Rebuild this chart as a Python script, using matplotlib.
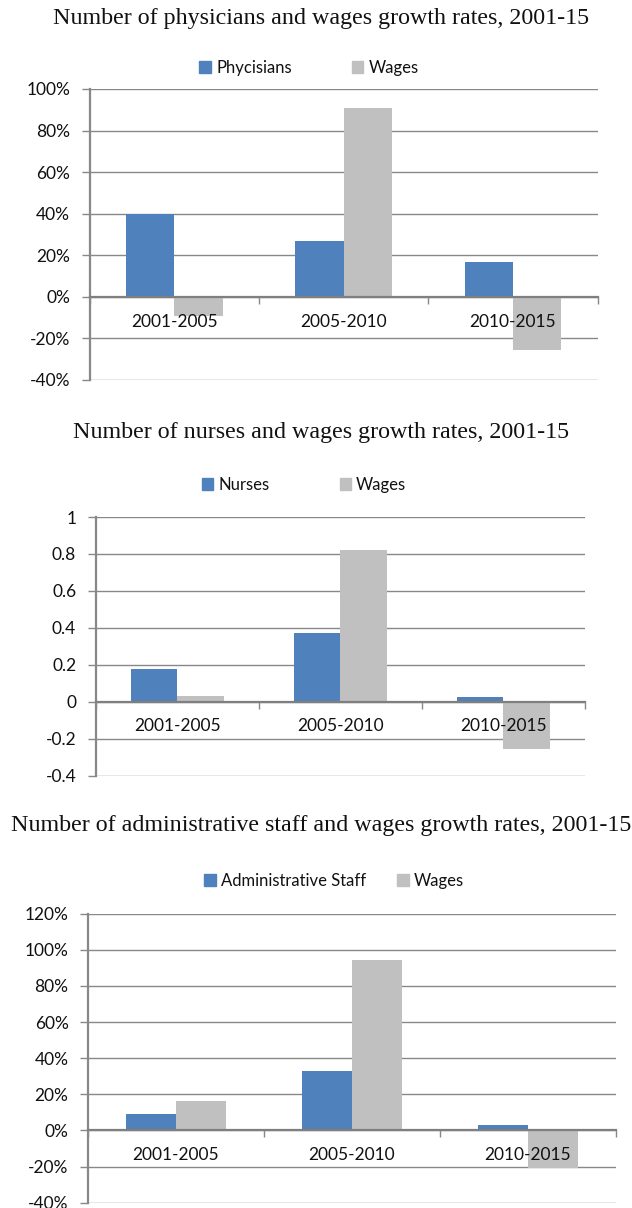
import matplotlib
matplotlib.use("Agg")
import matplotlib.pyplot as plt
from matplotlib.patches import Patch
from matplotlib.ticker import PercentFormatter, FuncFormatter, FixedLocator

plt.rcParams["axes.unicode_minus"] = False

periods = ["2001-2005", "2005-2010", "2010-2015"]

physicians = [0.40, 0.27, 0.17]
physician_wages = [-0.09, 0.91, -0.255]

nurses = [0.177, 0.372, 0.024]
nurse_wages = [0.032, 0.821, -0.254]

admin_staff = [0.09, 0.33, 0.03]
admin_wages = [0.162, 0.945, -0.21]

BLUE = "#4F81BD"
GREY = "#C0C0C0"
LINE = "#888888"
SANS = "Lato"
SERIF = "Liberation Serif"

W, H = 632, 1208
fig = plt.figure(figsize=(W / 100, H / 100), dpi=100)


def px_axes(left, top, right, bottom):
    return fig.add_axes([left / W, 1 - bottom / H, (right - left) / W, (bottom - top) / H])


def draw_panel(ax, title, title_y, legend_label, legend_y, legend_x, colspace,
               staff, wages, ylim, step, percent):
    bar_w = 1 / 3.5
    x = range(len(periods))
    ax.bar([i - bar_w / 2 for i in x], staff, width=bar_w, color=BLUE, zorder=2)
    ax.bar([i + bar_w / 2 for i in x], wages, width=bar_w, color=GREY, zorder=2)

    ax.set_xlim(-0.5, len(periods) - 0.5)
    ax.set_ylim(*ylim)
    n = int(round((ylim[1] - ylim[0]) / step))
    ax.yaxis.set_major_locator(FixedLocator([ylim[0] + k * step for k in range(n + 1)]))
    if percent:
        ax.yaxis.set_major_formatter(PercentFormatter(xmax=1, decimals=0))
    else:
        ax.yaxis.set_major_formatter(FuncFormatter(lambda v, _: f"{round(v, 2):g}"))

    ax.grid(axis="y", color=LINE, linewidth=1.0)
    ax.yaxis.set_zorder(0.5)
    ax.xaxis.set_zorder(3)

    for s in ("top", "right"):
        ax.spines[s].set_visible(False)
    ax.spines["left"].set_color(LINE)
    ax.spines["left"].set_linewidth(1.6)
    ax.spines["bottom"].set_position(("data", 0))
    ax.spines["bottom"].set_color("#7f7f7f")
    ax.spines["bottom"].set_linewidth(1.6)
    ax.spines["bottom"].set_zorder(3)

    # category boundaries as ticks, category names as minor tick labels
    ax.set_xticks([i - 0.5 for i in range(len(periods) + 1)])
    ax.set_xticklabels([])
    ax.set_xticks(list(x), minor=True)
    ax.set_xticklabels(periods, minor=True, fontsize=12.5, family=SANS, color="#111111")
    ax.tick_params(axis="x", which="major", direction="out", length=5, width=1, color=LINE)
    ax.tick_params(axis="x", which="minor", length=0, pad=12)
    ax.tick_params(axis="y", direction="out", length=6, width=1, color=LINE, pad=8,
                   labelsize=12.5, labelcolor="#111111")
    for lab in ax.get_yticklabels():
        lab.set_family(SANS)

    fig.text(0.508, 1 - title_y / H, title, ha="center", va="center",
             family=SERIF, fontsize=17.3, color="#111111")

    handles = [Patch(color=BLUE, label=legend_label), Patch(color=GREY, label="Wages")]
    leg = ax.legend(handles=handles, loc="center", ncol=2, frameon=False,
                    bbox_to_anchor=(legend_x / W, 1 - legend_y / H),
                    bbox_transform=fig.transFigure,
                    prop={"family": SANS, "size": 12},
                    handlelength=0.7, handleheight=0.7, handletextpad=0.3,
                    columnspacing=colspace, borderpad=0)
    for t in leg.get_texts():
        t.set_color("#111111")


ax1 = px_axes(89.5, 89, 597.6, 380)
draw_panel(ax1, "Number of physicians and wages growth rates, 2001-15", 18.5,
           "Phycisians", 68, 309, 3.6, physicians, physician_wages,
           (-0.4, 1.0), 0.2, True)

ax2 = px_axes(95.6, 517, 584.7, 775.7)
draw_panel(ax2, "Number of nurses and wages growth rates, 2001-15", 432,
           "Nurses", 485, 304, 4.2, nurses, nurse_wages,
           (-0.4, 1.0), 0.2, False)

ax3 = px_axes(88, 913.7, 616, 1202.7)
draw_panel(ax3, "Number of administrative staff and wages growth rates, 2001-15", 826,
           "Administrative Staff", 881, 334, 1.9, admin_staff, admin_wages,
           (-0.4, 1.2), 0.2, True)

fig.savefig("out.png", dpi=100)
